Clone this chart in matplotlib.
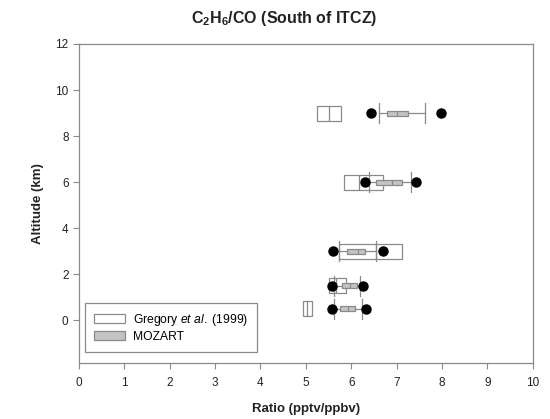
import matplotlib
matplotlib.use("Agg")
import matplotlib.pyplot as plt
from matplotlib.patches import Patch

plt.rcParams['font.family'] = ['Liberation Sans', 'DejaVu Sans']
plt.rcParams['mathtext.fontset'] = 'custom'
plt.rcParams['mathtext.rm'] = 'Liberation Sans'
plt.rcParams['mathtext.it'] = 'Liberation Sans:italic'
plt.rcParams['mathtext.bf'] = 'Liberation Sans:bold'

# Gregory et al. (1999) observations (box only)
obs_alt = [0.5, 1.5, 3.0, 6.0, 9.0]
obs_q1 = [4.93, 5.50, 5.73, 5.83, 5.24]
obs_med = [5.02, 5.66, 6.54, 6.17, 5.51]
obs_q3 = [5.13, 5.88, 7.11, 6.70, 5.77]

# MOZART model
mod_alt = [0.5, 1.5, 3.0, 6.0, 9.0]
mod_p5 = [5.57, 5.58, 5.60, 6.30, 6.43]
mod_lo = [5.62, 5.62, 5.73, 6.39, 6.61]
mod_q1 = [5.75, 5.80, 5.90, 6.54, 6.78]
mod_med = [5.92, 5.98, 6.15, 6.89, 7.00]
mod_q3 = [6.08, 6.12, 6.30, 7.11, 7.25]
mod_hi = [6.23, 6.19, 6.54, 7.31, 7.62]
mod_p95 = [6.32, 6.25, 6.70, 7.42, 7.97]

grey = '#8a8a8a'

fig = plt.figure(figsize=(5.5, 4.19), dpi=100)
ax = fig.add_axes([0.1436, 0.134, 0.825, 0.761])

obs_stats = [dict(q1=a, med=b, q3=c, whislo=a, whishi=c)
             for a, b, c in zip(obs_q1, obs_med, obs_q3)]
ax.bxp(obs_stats, positions=obs_alt, widths=0.65, vert=False,
       showfliers=False, showcaps=False, patch_artist=True,
       boxprops=dict(facecolor='white', edgecolor=grey, linewidth=0.9),
       medianprops=dict(color=grey, linewidth=0.9),
       whiskerprops=dict(linewidth=0), manage_ticks=False)

mod_stats = [dict(q1=q1, med=m, q3=q3, whislo=lo, whishi=hi)
             for q1, m, q3, lo, hi in zip(mod_q1, mod_med, mod_q3, mod_lo, mod_hi)]
ax.bxp(mod_stats, positions=mod_alt, widths=0.22, vert=False,
       showfliers=False, patch_artist=True, capwidths=0.85,
       boxprops=dict(facecolor='#c4c4c4', edgecolor=grey, linewidth=0.9),
       medianprops=dict(color=grey, linewidth=0.9),
       whiskerprops=dict(color=grey, linewidth=0.9),
       capprops=dict(color=grey, linewidth=0.9), manage_ticks=False)
ax.plot(mod_p5, mod_alt, 'o', color='black', markersize=6.5, zorder=5)
ax.plot(mod_p95, mod_alt, 'o', color='black', markersize=6.5, zorder=5)

ax.set_xlim(0, 10)
ax.set_ylim(-1.85, 12)
ax.set_xticks(range(0, 11))
ax.set_yticks(range(0, 13, 2))
for s in ax.spines.values():
    s.set_color(grey)
    s.set_linewidth(0.9)
ax.tick_params(direction='out', length=4, width=0.8, color=grey,
               labelsize=8.5, labelcolor='#222222')
ax.tick_params(axis='x', pad=6)

ax.set_xlabel('Ratio (pptv/ppbv)', fontsize=9.5, fontweight='bold',
              color='#222222', labelpad=10)
ax.set_ylabel('Altitude (km)', fontsize=9.5, fontweight='bold',
              color='#222222', labelpad=8)
fig.text(284 / 550, 1 - 19 / 419, r'C$_\mathbf{2}$H$_\mathbf{6}$/CO (South of ITCZ)',
         ha='center', va='center', fontsize=11.5, fontweight='bold', color='#222222')

handles = [Patch(facecolor='white', edgecolor=grey, linewidth=0.9),
           Patch(facecolor='#c4c4c4', edgecolor=grey, linewidth=0.9)]
labels = [r'Gregory $\it{et\ al.}\,\,$(1999)', 'MOZART']
leg = ax.legend(handles, labels, loc='lower left', bbox_to_anchor=(0.013, 0.034),
                fontsize=8.7, fancybox=False, edgecolor=grey, handlelength=2.6,
                handleheight=0.8, handletextpad=0.6, borderaxespad=0,
                borderpad=0.75, labelspacing=0.25, framealpha=1)
leg.get_frame().set_linewidth(0.9)

fig.savefig('out.png', dpi=100)
